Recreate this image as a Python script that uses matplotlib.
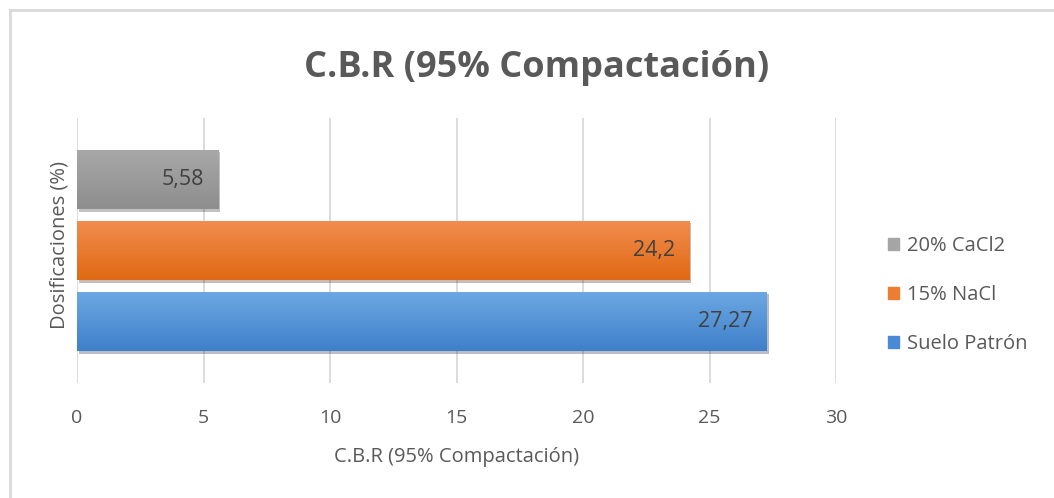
import numpy as np
import matplotlib
matplotlib.use('Agg')
from matplotlib import pyplot as plt
from matplotlib import patheffects as pe
from matplotlib.patches import Patch
from matplotlib.colors import LinearSegmentedColormap

# C.B.R at 95% compaction for each dosage
series = ['Suelo Patrón', '15% NaCl', '20% CaCl2']
values = [27.27, 24.2, 5.58]
value_labels = ['27,27', '24,2', '5,58']
top_colors = ['#6ca8e2', '#f28c4e', '#a8a8a8']
bottom_colors = ['#3f80ca', '#e06a14', '#8e8e8e']
legend_colors = ['#4a8ad4', '#ed7d31', '#a5a5a5']
xticks = [0, 5, 10, 15, 20, 25, 30]

plt.rcParams['font.family'] = ['Open Sans', 'DejaVu Sans']

fig = plt.figure(figsize=(10.54, 4.98), dpi=100)
ax = fig.add_axes([0.0731, 0.2309, 0.7201, 0.5321])

# frame around the chart area
fig.add_artist(plt.Line2D([10/1054, 10/1054], [0, 1 - 10/498], color='#d9d9d9', lw=2))
fig.add_artist(plt.Line2D([10/1054, 1], [1 - 10/498, 1 - 10/498], color='#d9d9d9', lw=2))

h = 0.226
step = 0.268
offsets = [-step, 0, step]

ax.set_xlim(0, 30)
ax.set_ylim(-0.5, 0.5)
ax.set_xticks(xticks)
ax.set_yticks([])
ax.grid(axis='x', color='#d9d9d9', lw=1.3)
ax.set_axisbelow(True)
for s in ax.spines.values():
    s.set_visible(False)

grad = np.linspace(0, 1, 64).reshape(-1, 1)
for i, (name, v) in enumerate(zip(series, values)):
    bar = ax.barh(offsets[i], v, height=h, color=legend_colors[i], zorder=2,
                  path_effects=[pe.SimplePatchShadow(offset=(1.5, -2), alpha=0.3),
                                pe.Normal()])[0]
    cmap = LinearSegmentedColormap.from_list('g%d' % i, [bottom_colors[i], top_colors[i]])
    x0, y0 = bar.get_x(), bar.get_y()
    im = ax.imshow(grad, cmap=cmap, aspect='auto', origin='lower',
                   extent=[x0, x0 + bar.get_width(), y0, y0 + bar.get_height()], zorder=3)
    im.set_clip_path(bar)
    ax.text(v - 0.55, offsets[i], value_labels[i], ha='right', va='center',
            fontsize=15.5, color='#404040', zorder=4)

ax.set_xlim(0, 30)
ax.set_ylim(-0.5, 0.5)
ax.tick_params(axis='x', length=0, pad=19, labelsize=14, labelcolor='#595959')
ax.set_xlabel('C.B.R (95% Compactación)', fontsize=14.5, color='#595959')
ax.xaxis.set_label_coords(0.5, -0.24)

fig.text(60/1054, 1 - 245/498, 'Dosificaciones (%)', rotation=90, ha='center', va='center',
         fontsize=14.5, color='#595959')

fig.text(537/1054, 1 - 68/498, 'C.B.R (95% Compactación)', ha='center', va='center',
         fontsize=26, fontweight='bold', color='#595959')

handles = [Patch(color=legend_colors[i], label=series[i]) for i in range(3)][::-1]
ax.legend(handles=handles, loc='center left', bbox_to_anchor=(1.044, 0.332),
          frameon=False, fontsize=14.5, labelcolor='#595959', handlelength=0.55,
          handleheight=0.55, handletextpad=0.4, labelspacing=1.45)

fig.savefig('out.png', dpi=100, facecolor='white')
